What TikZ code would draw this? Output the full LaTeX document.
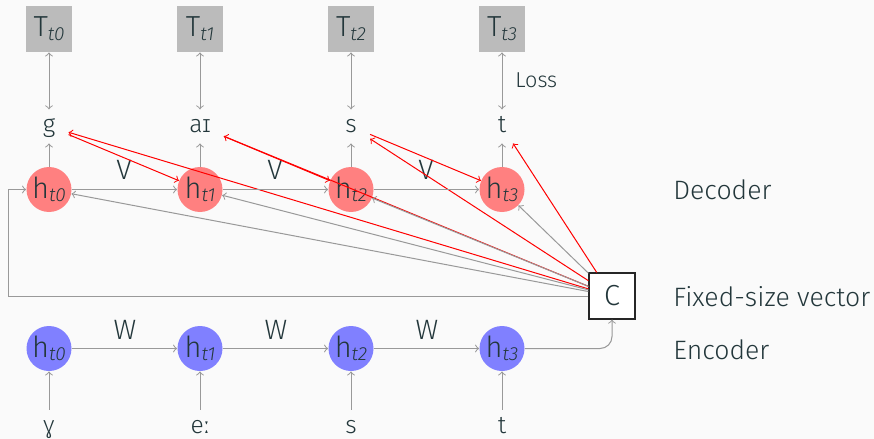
\documentclass[tikz,border=0pt]{standalone}
\usepackage{fontspec}
\setmainfont{Fira Sans Light}[ItalicFont={Fira Sans Light Italic}]
\definecolor{bgc}{HTML}{FAFAFA}
\definecolor{txc}{HTML}{23373B}
\definecolor{decred}{HTML}{FF8080}
\definecolor{encblue}{HTML}{8080FF}
\definecolor{tgray}{HTML}{BBBBBB}
\definecolor{lgray}{HTML}{999999}
\newcommand{\subfnt}{\fontsize{9.5}{10}\selectfont\itshape}
\newcommand{\hs}[1]{h\raisebox{-1.2pt}{\subfnt #1}}
\newcommand{\Ts}[1]{T\raisebox{-2pt}{\subfnt #1}}
\begin{document}
\begin{tikzpicture}[x=0.5pt,y=-0.5pt,
  every node/.style={text=txc},
  font=\fontsize{12.3}{14}\selectfont,
  big/.style={font=\fontsize{14.5}{16}\selectfont},
  hdec/.style={circle, fill=decred, minimum size=22.5pt, inner sep=0pt, big},
  henc/.style={circle, fill=encblue, minimum size=22.5pt, inner sep=0pt, big},
  tbox/.style={fill=tgray, minimum size=23pt, inner sep=0pt, big},
  sym/.style={anchor=base, inner xsep=6.5pt, inner ysep=2.75pt, text height=8.6pt, text depth=2.5pt},
  lab/.style={anchor=west, inner sep=0pt, font=\fontsize{13.3}{15}\selectfont},
  wlab/.style={inner sep=0pt, font=\fontsize{14}{16}\selectfont},
  garr/.style={draw=lgray, line width=0.5pt, ->},
  rarr/.style={draw=red, line width=0.5pt, ->},
]
\path[fill=bgc] (0,0) rectangle (874,439);
\useasboundingbox (0,0) rectangle (874,439);

% targets
\node[tbox] (T0) at (49,29) {\Ts{t0}};
\node[tbox] (T1) at (200,29) {\Ts{t1}};
\node[tbox] (T2) at (351,29) {\Ts{t2}};
\node[tbox] (T3) at (502,29) {\Ts{t3}};

% outputs
\node[sym] (o0) at (49,132.5) {g};
\node[sym] (o1) at (200,132.5) {aɪ};
\node[sym] (o2) at (351,132.5) {s};
\node[sym] (o3) at (502,132.5) {t};

% decoder
\node[hdec] (d0) at (49,189.5) {\hs{t0}};
\node[hdec] (d1) at (200,189.5) {\hs{t1}};
\node[hdec] (d2) at (351,189.5) {\hs{t2}};
\node[hdec] (d3) at (502,189.5) {\hs{t3}};

% context
\node[draw=black!85, fill=white, line width=0.6pt, minimum size=23pt, inner sep=0pt, big] (C) at (612,296) {C};

% encoder
\node[henc] (e0) at (49,348.5) {\hs{t0}};
\node[henc] (e1) at (200,348.5) {\hs{t1}};
\node[henc] (e2) at (351,348.5) {\hs{t2}};
\node[henc] (e3) at (502,348.5) {\hs{t3}};

% inputs
\node[sym] (i0) at (49,433) {ɣ};
\node[sym] (i1) at (200,433) {eː};
\node[sym] (i2) at (351,433) {s};
\node[sym] (i3) at (502,433) {t};

% side labels
\node[lab] (ldec) at (673,190) {Decoder};
\node[lab] (lfix) at (673,297) {Fixed-size vector};
\node[lab] (lenc) at (673,350) {Encoder};
\node[anchor=west, inner sep=0pt, font=\fontsize{10.8}{12}\selectfont] (loss) at (515,80) {Loss};

% weight labels
\node[wlab] (v0) at (124,170) {V};
\node[wlab] (v1) at (275,170) {V};
\node[wlab] (v2) at (426,170) {V};
\node[wlab] (w0) at (125,330) {W};
\node[wlab] (w1) at (276,330) {W};
\node[wlab] (w2) at (427,330) {W};

% connectors
\foreach \k in {0,1,2,3} {
  \draw[garr,<->] (T\k) -- (o\k);
  \draw[garr] (d\k) -- (o\k);
  \draw[garr] (i\k) -- (e\k);
  \draw[garr] (C) -- (d\k);
  \draw[rarr] (C) -- (o\k);
}
\draw[garr] (d0) -- (d1);
\draw[garr] (d1) -- (d2);
\draw[garr] (d2) -- (d3);
\draw[garr] (e0) -- (e1);
\draw[garr] (e1) -- (e2);
\draw[garr] (e2) -- (e3);
\draw[rarr] (o0) -- (d1);
\draw[rarr] (o1) -- (d2);
\draw[rarr] (o2) -- (d3);

\draw[garr, rounded corners=6pt] (e3.east) -| (C.south);
\coordinate (lp) at (8,296);
\draw[garr] (C.west) -- (lp) |- (d0.west);
\end{tikzpicture}
\end{document}
